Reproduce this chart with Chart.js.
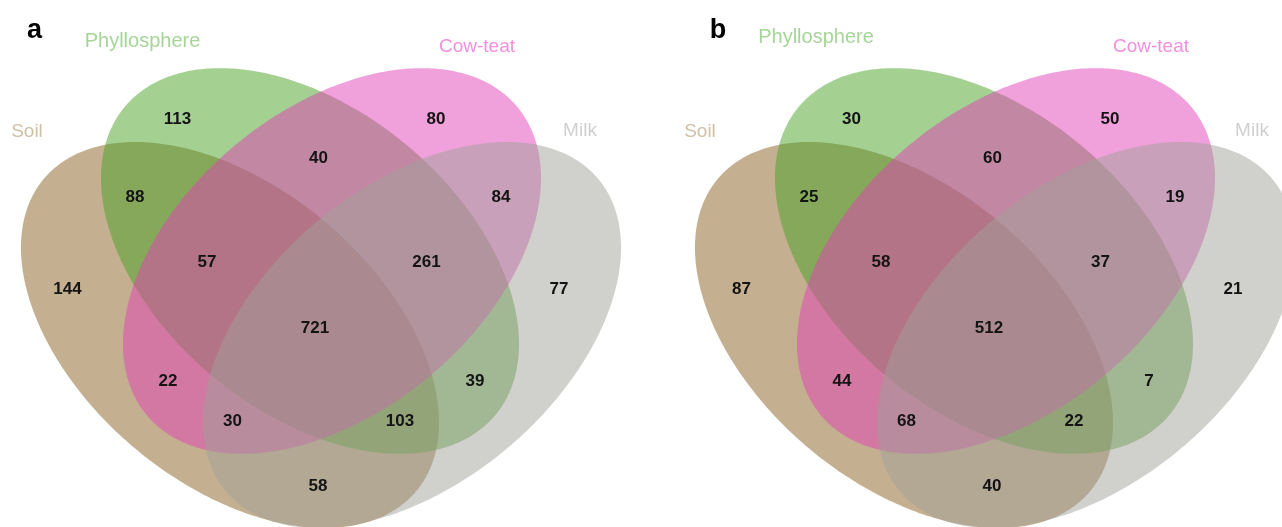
<!DOCTYPE html>
<html>
<head>
<meta charset="utf-8">
<script src="https://cdn.jsdelivr.net/npm/chart.js@4/dist/chart.umd.min.js"></script>
<style>
  html, body { margin: 0; padding: 0; background: #ffffff; overflow: hidden; }
  #wrap { display: flex; width: 1282px; height: 527px; }
  canvas { display: block; }
</style>
</head>
<body>
<div id="wrap">
  <canvas id="chartA" width="641" height="527"></canvas>
  <canvas id="chartB" width="641" height="527"></canvas>
</div>
<script>
// ---------------- DATA ----------------
const panelLetters = ['a', 'b'];
const setNames = ['Soil', 'Phyllosphere', 'Cow-teat', 'Milk'];
const regionNames = [
  'Soil', 'Phyllosphere', 'Cow-teat', 'Milk',
  'Soil & Phyllosphere', 'Phyllosphere & Cow-teat', 'Cow-teat & Milk', 'Soil & Milk',
  'Soil & Cow-teat', 'Phyllosphere & Milk',
  'Soil & Phyllosphere & Cow-teat', 'Phyllosphere & Cow-teat & Milk',
  'Soil & Cow-teat & Milk', 'Soil & Phyllosphere & Milk',
  'Soil & Phyllosphere & Cow-teat & Milk'
];
const countsA = [144, 113, 80, 77, 88, 40, 84, 58, 22, 39, 57, 261, 30, 103, 721];
const countsB = [87, 30, 50, 21, 25, 60, 19, 40, 44, 7, 58, 37, 68, 22, 512];

// ---------------- LAYOUT / STYLE ----------------
const LAYOUT = {
  width: 641,
  height: 527,
  panelShift: [0, 33],
  // ellipse geometry (data units of the hidden axes), one per set
  ellipses: [
    { cx: 230, cy: 335, a: 243, b: 148, rot: 40 },
    { cx: 310, cy: 261, a: 241, b: 151, rot: 39.7 },
    { cx: 332, cy: 261, a: 241, b: 151, rot: -39.7 },
    { cx: 412, cy: 335, a: 243, b: 148, rot: -40 }
  ],
  regionAnchors: [
    [67.5, 288.5], [177.5, 118], [436, 118], [559, 288.5],
    [135, 196.5], [318.5, 157.5], [501, 196.5], [318, 485],
    [168, 380], [475, 380],
    [207, 261.5], [426.5, 261.5],
    [232.5, 420], [400, 420],
    [315, 327.5]
  ],
  setLabelAnchors: [
    [[27, 137], [142.5, 47], [477, 52], [580, 136]],
    [[59, 137], [175, 43], [510, 52], [611, 136]]
  ],
  letterAnchors: [[34.5, 38], [77, 38]]
};
const STYLE = {
  fills: ['rgba(137,97,33,0.5)', 'rgba(73,162,37,0.5)', 'rgba(225,65,181,0.5)', 'rgba(161,161,153,0.5)'],
  setLabelColors: ['#CFC0A6', '#A6D598', '#F190DC', '#D0D0D0'],
  setLabelFonts: ['19px "Liberation Sans", Arial, sans-serif', '20px "Liberation Sans", Arial, sans-serif',
                  '19px "Liberation Sans", Arial, sans-serif', '19px "Liberation Sans", Arial, sans-serif'],
  countFont: 'bold 17px "Liberation Sans", Arial, sans-serif',
  countColor: '#141414',
  letterFont: 'bold 27px "Liberation Sans", Arial, sans-serif',
  letterColor: '#000000'
};

// ---------------- PLUGINS ----------------
const vennPlugin = {
  id: 'venn',
  beforeDatasetsDraw(chart, args, opts) {
    const ctx = chart.ctx;
    const xs = chart.scales.x, ys = chart.scales.y;
    const shift = opts.shift;
    ctx.save();
    LAYOUT.ellipses.forEach((e, i) => {
      const r = e.rot * Math.PI / 180;
      const c = Math.cos(r), s = Math.sin(r);
      ctx.beginPath();
      for (let k = 0; k <= 360; k++) {
        const t = k * Math.PI / 180;
        const ux = e.a * Math.cos(t), vy = e.b * Math.sin(t);
        const dx = e.cx + shift + ux * c - vy * s;
        const dy = e.cy + ux * s + vy * c;
        const px = xs.getPixelForValue(dx), py = ys.getPixelForValue(dy);
        if (k === 0) ctx.moveTo(px, py); else ctx.lineTo(px, py);
      }
      ctx.closePath();
      ctx.fillStyle = STYLE.fills[i];
      ctx.fill();
    });
    ctx.restore();
  },
  afterDatasetsDraw(chart, args, opts) {
    const ctx = chart.ctx;
    const xs = chart.scales.x, ys = chart.scales.y;
    const meta = chart.getDatasetMeta(0);
    const ds = chart.data.datasets[0];
    ctx.save();
    ctx.textAlign = 'center';
    ctx.textBaseline = 'middle';
    ctx.font = STYLE.countFont;
    ctx.fillStyle = STYLE.countColor;
    meta.data.forEach((el, i) => {
      ctx.fillText(String(ds.data[i].v), el.x, el.y + 1);
    });
    // set names
    ctx.textBaseline = 'alphabetic';
    const p = opts.panel;
    setNames.forEach((name, i) => {
      const [lx, ly] = LAYOUT.setLabelAnchors[p][i];
      ctx.font = STYLE.setLabelFonts[i];
      ctx.fillStyle = STYLE.setLabelColors[i];
      ctx.fillText(name, xs.getPixelForValue(lx), ys.getPixelForValue(ly));
    });
    // panel letter
    const [ax, ay] = LAYOUT.letterAnchors[p];
    ctx.font = STYLE.letterFont;
    ctx.fillStyle = STYLE.letterColor;
    ctx.fillText(panelLetters[p], xs.getPixelForValue(ax), ys.getPixelForValue(ay));
    ctx.restore();
  }
};

function makeChart(canvasId, panel, counts) {
  const shift = LAYOUT.panelShift[panel];
  const points = regionNames.map((name, i) => ({
    x: LAYOUT.regionAnchors[i][0] + shift,
    y: LAYOUT.regionAnchors[i][1],
    v: counts[i],
    region: name
  }));
  return new Chart(document.getElementById(canvasId), {
    type: 'scatter',
    data: {
      datasets: [{
        label: 'Shared counts',
        data: points,
        pointRadius: 0,
        pointHoverRadius: 0,
        showLine: false
      }]
    },
    options: {
      responsive: false,
      animation: false,
      devicePixelRatio: 1,
      layout: { padding: 0 },
      plugins: {
        legend: { display: false },
        tooltip: { enabled: false },
        venn: { shift: shift, panel: panel }
      },
      scales: {
        x: { type: 'linear', min: 0, max: LAYOUT.width, display: false },
        y: { type: 'linear', min: 0, max: LAYOUT.height, reverse: true, display: false }
      }
    },
    plugins: [vennPlugin]
  });
}

makeChart('chartA', 0, countsA);
makeChart('chartB', 1, countsB);
</script>
</body>
</html>
